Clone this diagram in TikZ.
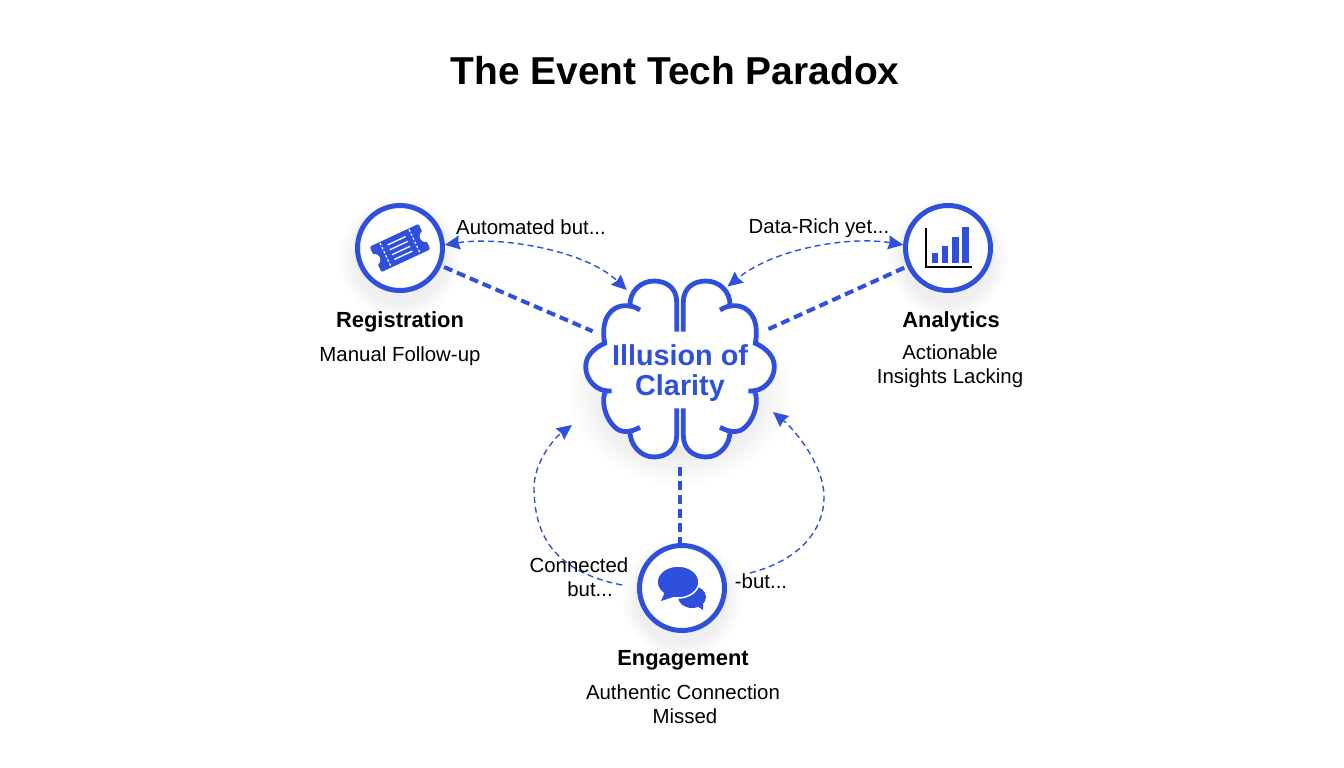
\documentclass[tikz,border=0pt]{standalone}
\usepackage{fontspec}
\setmainfont{Liberation Sans}
\usepackage{xcolor}
\usetikzlibrary{arrows.meta}
\definecolor{hubblue}{HTML}{2F50DC}
\tikzset{
  hub/.style={circle,draw=hubblue,line width=5pt,fill=white,minimum size=85pt,inner sep=0pt},
  heading/.style={font=\bfseries\fontsize{21.9}{24}\selectfont,text=black,inner sep=0pt},
  caption/.style={font=\fontsize{20.4}{24}\selectfont,text=black,align=center,inner sep=0pt},
  thicklink/.style={draw=hubblue,line width=4pt,dash pattern=on 9pt off 5pt,shorten <=3pt},
  thinlink/.style={draw=hubblue,line width=1.4pt,dash pattern=on 6pt off 4pt,
    >={Stealth[length=15pt,width=14pt,inset=1.5pt,fill=hubblue]}},
}

\begin{document}
\begin{tikzpicture}[x=1pt,y=-1pt]
    \useasboundingbox (0,0) rectangle (1344,768);
    % soft shadows
    \foreach \r in {46,48,...,60}{
      \fill[black,opacity=.007] (400,258) circle (\r pt);
      \fill[black,opacity=.007] (948,258) circle (\r pt);
      \fill[black,opacity=.007] (682,598) circle (\r pt);
    }
    \foreach \r in {74,78,...,112}
      \fill[black,opacity=.009] (680,392) ellipse (\r pt and 0.85*\r pt);

    % cloud
    \fill[white] (680,369) circle (76pt);
    \foreach \s in {1,-1}{
    \begin{scope}[shift={(680,265)},xscale=\s,x=.3333pt,y=-.3333pt]
      \draw[hubblue,fill=white,line width=4.8pt]
        (-10,200) -- (-10,110) .. controls (-10,70) and (-40,48) .. (-78,48)
          .. controls (-118,48) and (-152,80) .. (-150,122)
        (-120,135) .. controls (-135,125) and (-150,122) .. (-165,122)
          .. controls (-205,122) and (-240,160) .. (-226,235)
          .. controls (-260,250) and (-283,275) .. (-283,305)
          .. controls (-283,345) and (-250,382) .. (-205,378)
        (-226,385) .. controls (-240,430) and (-205,500) .. (-165,500)
          .. controls (-150,500) and (-135,495) .. (-120,487)
        (-150,495) .. controls (-152,540) and (-118,576) .. (-78,576)
          .. controls (-40,576) and (-10,552) .. (-10,512) -- (-10,430);
    \end{scope}
    }

    \node (title) at (675,71) [font=\bfseries\fontsize{38.9}{42}\selectfont,inner sep=0pt] {The Event Tech Paradox};
    \node[circle,minimum size=190pt,inner sep=0pt] (clarity) at (680,369) {};
    \node[align=center,text=hubblue,inner sep=0pt,
      font=\bfseries\fontsize{28.8}{30}\selectfont] (claritylabel) at (680,373) {Illusion of\\Clarity};

    \node[hub] (registration) at (400,248) {};
    \node[hub] (analytics) at (948,248) {};
    \node[hub] (engagement) at (682,588) {};

    \node[heading] (regname) at (400,322) {Registration};
    \node[caption] (regnote) at (400,356) {Manual Follow-up};
    \node[heading] (anname) at (951,322) {Analytics};
    \node[caption] (annote) at (950,366) {Actionable\\Insights Lacking};
    \node[heading] (engname) at (683,660) {Engagement};
    \node[caption] (engnote) at (683,704) {Authentic Connection\\\hspace*{4pt}Missed};

    \coordinate (leftstart) at (622,585);
    \coordinate (lefttip) at (572,425);
    \coordinate (rightstart) at (750,573);
    \coordinate (righttip) at (773,412);

    % links to the cloud
    \draw[thicklink] (registration) -- (clarity);
    \draw[thicklink] (analytics) -- (clarity);
    \draw[thicklink] (clarity.south) -- (clarity.south |- engagement.north);

    \draw[thinlink,<->] (registration.4) .. controls (500,236) and (585,250) .. (clarity.124);
    \draw[thinlink,<->] (analytics.176) .. controls (850,236) and (775,248) .. (clarity.60);
    \draw[thinlink,->] (leftstart) .. controls (545,570) and (535,525) .. (534,490) .. controls (533,465) and (552,440) .. (lefttip);
    \draw[thinlink,->] (rightstart) .. controls (800,560) and (824,530) .. (824,497) .. controls (824,465) and (795,430) .. (righttip);

    \node[caption] (autolabel) at (531,227) {Automated but...};
    \node[caption] (datalabel) at (819,228) {Data-Rich yet...};
    \node[caption] (connlabel) at (579,577) {Connected\\\hspace*{22pt}but...};
    \node[caption] (butlabel) at (761,581) {-but...};

    % ticket
    \begin{scope}[shift={(registration)},rotate=25]
      \fill[hubblue,rounded corners=2pt] (-27,-14) -- (27,-14) -- (27,-5)
        arc (90:270:5pt) -- (27,14) -- (-27,14) -- (-27,5) arc (-90:90:5pt) -- cycle;
      \draw[white,line width=1.2pt,dash pattern=on 2.5pt off 2pt] (-16,-13) -- (-16,13);
      \draw[white,line width=1.2pt,dash pattern=on 2.5pt off 2pt] (16,-13) -- (16,13);
      \foreach \y in {-8,-2.7,2.7,8}
        \draw[white,line width=1.3pt] (-10,\y) -- (10,\y);
    \end{scope}

    % bar chart
    \foreach \xa/\xb/\ytop in {932/938/253,942/948/246,952/959/237,962/969/227}
      \fill[hubblue] (\xa,\ytop) rectangle (\xb,263);
    \draw[black,line width=1.6pt] (926,228) -- (926,267) -- (972,267);

    % speech bubbles
    \fill[hubblue] (692,597) ellipse (14pt and 11pt);
    \fill[hubblue] (694,604) -- (703,610) -- (703,598) -- cycle;
    \draw[white,fill=hubblue,line width=1.5pt] (678,582) ellipse (21pt and 16pt);
    \fill[hubblue] (665,592) -- (661,601) -- (676,596) -- cycle;
\end{tikzpicture}
\end{document}
